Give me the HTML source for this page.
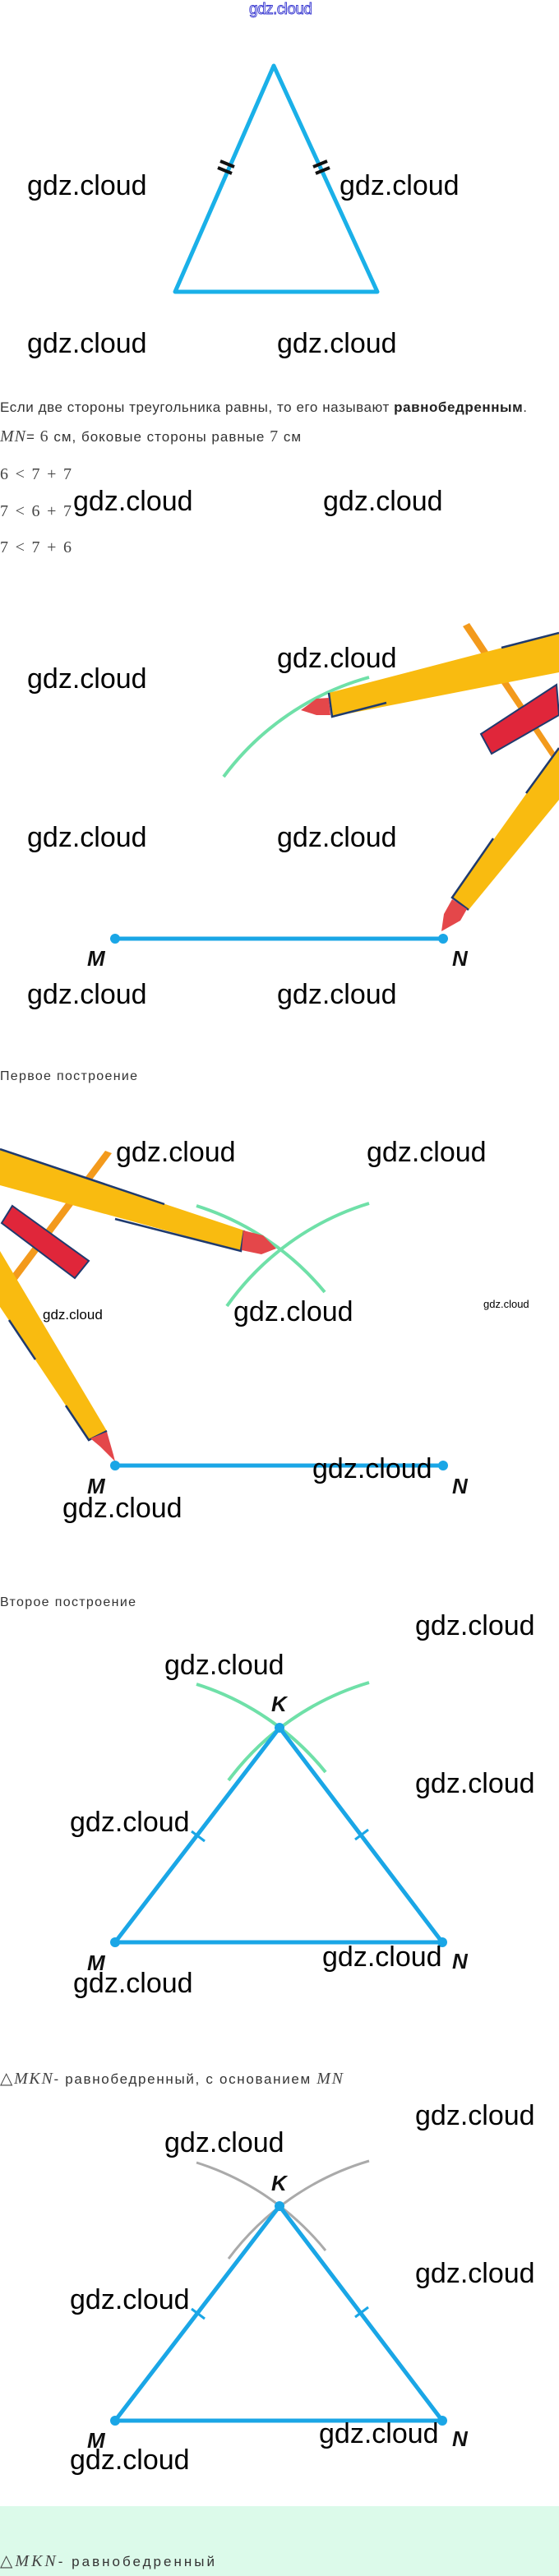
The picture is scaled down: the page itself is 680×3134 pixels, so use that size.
<!DOCTYPE html>
<html><head><meta charset="utf-8"><style>
html,body{margin:0;padding:0;background:#fff;width:680px;height:3134px;overflow:hidden}
svg{display:block}
.w{font-family:"Liberation Sans",sans-serif;font-size:34px;fill:#000}
.t{font-family:"Liberation Sans",sans-serif;font-size:17px;fill:#333}
.m{font-family:"Liberation Serif",serif;font-size:20px;fill:#444}
.mi{font-family:"Liberation Serif",serif;font-style:italic;font-size:20px;fill:#444}
.lb{font-family:"Liberation Sans",sans-serif;font-style:italic;font-weight:bold;font-size:26px;fill:#111}
.bl{fill:none;stroke:#1aa6e6;stroke-width:5;stroke-linecap:round}
</style></head><body>
<svg width="680" height="3134" viewBox="0 0 680 3134" xmlns="http://www.w3.org/2000/svg">
<text x="303" y="17" font-family="Liberation Sans,sans-serif" font-size="19" fill="#fff" stroke="#3535d0" stroke-width="0.9" textLength="77">gdz.cloud</text>

<!-- Triangle 1 -->
<polygon points="333,80 213,355 459,355" fill="none" stroke="#1ab0e8" stroke-width="5" stroke-linejoin="round"/>
<g stroke="#111" stroke-width="4">
<line x1="268" y1="196" x2="285" y2="203"/><line x1="265" y1="204" x2="282" y2="211"/>
<line x1="381" y1="203" x2="398" y2="196"/><line x1="384" y1="211" x2="401" y2="204"/>
</g>
<text class="w" x="33" y="237">gdz.cloud</text>
<text class="w" x="413" y="237">gdz.cloud</text>
<text class="w" x="33" y="429">gdz.cloud</text>
<text class="w" x="337" y="429">gdz.cloud</text>

<text class="t" x="0" y="501" textLength="641">Если две стороны треугольника равны, то его называют <tspan font-weight="bold" fill="#222">равнобедренным</tspan>.</text>
<text x="0" y="537" textLength="366"><tspan class="mi">MN</tspan><tspan class="t">= </tspan><tspan class="m">6</tspan><tspan class="t"> см, боковые стороны равные </tspan><tspan class="m">7</tspan><tspan class="t"> см</tspan></text>
<text class="m" x="0" y="583" textLength="87">6 &lt; 7 + 7</text>
<text class="m" x="0" y="628" textLength="87">7 &lt; 6 + 7</text>
<text class="m" x="0" y="672" textLength="87">7 &lt; 7 + 6</text>
<text class="w" x="89" y="621">gdz.cloud</text>
<text class="w" x="393" y="621">gdz.cloud</text>

<!-- Construction 1 -->
<path d="M272,945 A330,330 0 0 1 449,824" fill="none" stroke="#6fe0a8" stroke-width="4"/>
<polygon points="563,762 571,758 680,923 680,935" fill="#f39a1c"/>
<polygon points="400,843 680,770 680,818 404,872" fill="#f9bb10"/>
<polyline points="400,843 404,872 470,855" fill="none" stroke="#1f3a6e" stroke-width="2.5"/>
<line x1="610" y1="788" x2="680" y2="770" stroke="#1f3a6e" stroke-width="2.5"/>
<polygon points="366,864 385,850 400,849 402,870 385,870" fill="#e4474a"/>
<polygon points="585,893 677,833 680,870 598,917" fill="#e0263a" stroke="#1f3a6e" stroke-width="2"/>
<polygon points="550,1092 680,910 680,973 570,1107" fill="#f9bb10"/>
<polyline points="640,965 680,910" fill="none" stroke="#1f3a6e" stroke-width="2.5"/>
<polyline points="600,1020 550,1092 570,1107" fill="none" stroke="#1f3a6e" stroke-width="2.5"/>
<polygon points="537,1133 540,1112 550,1094 568,1106 560,1120" fill="#e4474a"/>
<line class="bl" x1="140" y1="1142" x2="539" y2="1142"/>
<circle cx="140" cy="1142" r="6" fill="#1aa6e6"/><circle cx="539" cy="1142" r="6" fill="#1aa6e6"/>
<text class="lb" x="106" y="1175">M</text>
<text class="lb" x="550" y="1175">N</text>
<text class="w" x="33" y="837">gdz.cloud</text>
<text class="w" x="337" y="812">gdz.cloud</text>
<text class="w" x="33" y="1030">gdz.cloud</text>
<text class="w" x="337" y="1030">gdz.cloud</text>
<text class="w" x="33" y="1221">gdz.cloud</text>
<text class="w" x="337" y="1221">gdz.cloud</text>
<text class="t" x="0" y="1314" textLength="167" style="font-size:16px">Первое построение</text>

<!-- Construction 2 -->
<path d="M239,1467 A331,331 0 0 1 395,1572" fill="none" stroke="#6fe0a8" stroke-width="4"/>
<path d="M276,1589 A330,330 0 0 1 449,1464" fill="none" stroke="#6fe0a8" stroke-width="4"/>
<polygon points="128,1400 136,1403 0,1585 0,1570" fill="#f39a1c"/>
<polygon points="0,1398 297,1497 293,1522 0,1442" fill="#f9bb10"/>
<polyline points="0,1398 200,1465" fill="none" stroke="#1f3a6e" stroke-width="2.5"/>
<polyline points="140,1483 293,1522 297,1497" fill="none" stroke="#1f3a6e" stroke-width="2.5"/>
<polygon points="296,1497 320,1503 336,1519 318,1526 294,1521" fill="#e4474a"/>
<polygon points="15,1467 108,1534 91,1555 2,1488" fill="#e0263a" stroke="#1f3a6e" stroke-width="2"/>
<polygon points="0,1522 130,1741 108,1752 0,1590" fill="#f9bb10"/>
<polyline points="11,1606 43,1654" fill="none" stroke="#1f3a6e" stroke-width="2.5"/>
<polyline points="80,1710 108,1752 130,1741" fill="none" stroke="#1f3a6e" stroke-width="2.5"/>
<polygon points="110,1750 130,1742 138,1770 140,1778 122,1760" fill="#e4474a"/>
<line class="bl" x1="140" y1="1783" x2="539" y2="1783"/>
<circle cx="140" cy="1783" r="6" fill="#1aa6e6"/><circle cx="539" cy="1783" r="6" fill="#1aa6e6"/>
<text class="lb" x="106" y="1817">M</text>
<text class="lb" x="550" y="1817">N</text>
<text class="w" x="141" y="1413">gdz.cloud</text>
<text class="w" x="446" y="1413">gdz.cloud</text>
<text class="w" x="52" y="1605" style="font-size:17px">gdz.cloud</text>
<text class="w" x="284" y="1607">gdz.cloud</text>
<text class="w" x="588" y="1591" style="font-size:13px">gdz.cloud</text>
<text class="w" x="380" y="1798">gdz.cloud</text>
<text class="w" x="76" y="1846">gdz.cloud</text>
<text class="t" x="0" y="1954" textLength="165" style="font-size:16px">Второе построение</text>

<!-- Construction 3 -->
<path d="M239,2049 A330,330 0 0 1 396,2156" fill="none" stroke="#6fe0a8" stroke-width="4"/>
<path d="M278,2166 A330,330 0 0 1 449,2047" fill="none" stroke="#6fe0a8" stroke-width="4"/>
<polygon points="140,2363 340,2102 538,2363" fill="none" stroke="#1aa6e6" stroke-width="5" stroke-linejoin="round"/>
<circle cx="140" cy="2363" r="6" fill="#1aa6e6"/><circle cx="538" cy="2363" r="6" fill="#1aa6e6"/><circle cx="340" cy="2102" r="6" fill="#1aa6e6"/>
<g stroke="#1aa6e6" stroke-width="3"><line x1="233" y1="2228" x2="249" y2="2240"/><line x1="448" y1="2226" x2="432" y2="2238"/></g>
<text class="lb" x="330" y="2082">K</text>
<text class="lb" x="106" y="2397">M</text>
<text class="lb" x="550" y="2395">N</text>
<text class="w" x="505" y="1989">gdz.cloud</text>
<text class="w" x="200" y="2037">gdz.cloud</text>
<text class="w" x="505" y="2181">gdz.cloud</text>
<text class="w" x="85" y="2228">gdz.cloud</text>
<text class="w" x="392" y="2392">gdz.cloud</text>
<text class="w" x="89" y="2424">gdz.cloud</text>
<text x="0" y="2535" textLength="417"><tspan class="m">△</tspan><tspan class="mi">MKN</tspan><tspan class="t">- равнобедренный, с основанием </tspan><tspan class="mi">MN</tspan></text>

<!-- Construction 4 -->
<path d="M239,2631 A330,330 0 0 1 396,2738" fill="none" stroke="#aaa" stroke-width="3"/>
<path d="M278,2748 A330,330 0 0 1 449,2629" fill="none" stroke="#aaa" stroke-width="3"/>
<polygon points="140,2945 340,2684 538,2945" fill="none" stroke="#1aa6e6" stroke-width="5" stroke-linejoin="round"/>
<circle cx="140" cy="2945" r="6" fill="#1aa6e6"/><circle cx="538" cy="2945" r="6" fill="#1aa6e6"/><circle cx="340" cy="2684" r="6" fill="#1aa6e6"/>
<g stroke="#1aa6e6" stroke-width="3"><line x1="233" y1="2809" x2="249" y2="2821"/><line x1="448" y1="2807" x2="432" y2="2819"/></g>
<text class="lb" x="330" y="2665">K</text>
<text class="lb" x="106" y="2978">M</text>
<text class="lb" x="550" y="2976">N</text>
<text class="w" x="505" y="2585">gdz.cloud</text>
<text class="w" x="200" y="2618">gdz.cloud</text>
<text class="w" x="505" y="2777">gdz.cloud</text>
<text class="w" x="85" y="2809">gdz.cloud</text>
<text class="w" x="388" y="2972">gdz.cloud</text>
<text class="w" x="85" y="3004">gdz.cloud</text>

<rect x="0" y="3049" width="680" height="85" fill="#dcfaea"/>
<text x="0" y="3122" textLength="261"><tspan class="m">△</tspan><tspan class="mi">MKN</tspan><tspan class="t">- равнобедренный</tspan></text>
</svg>
</body></html>
